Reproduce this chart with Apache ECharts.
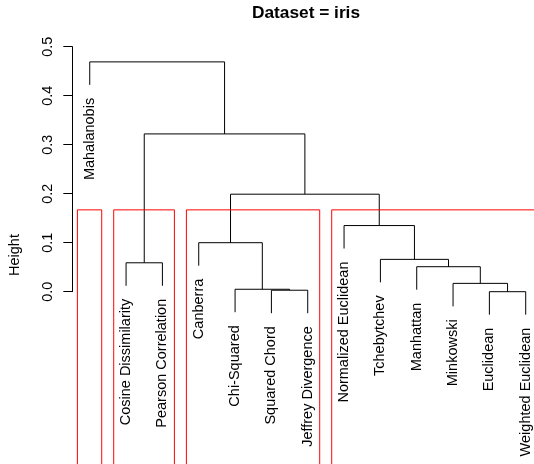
<!DOCTYPE html>
<html>
<head>
<meta charset="utf-8">
<title>Dataset = iris</title>
<script src="https://cdn.jsdelivr.net/npm/echarts@6/dist/echarts.min.js"></script>
<style>
  html, body { margin: 0; padding: 0; background: #ffffff; }
  #chart { width: 534px; height: 464px; }
</style>
</head>
<body>
<div id="chart"></div>
<script>
// Leaves in dendrogram order (left to right)
const leafLabels = [
  'Mahalanobis', 'Cosine Dissimilarity', 'Pearson Correlation', 'Canberra',
  'Chi-Squared', 'Squared Chord', 'Jeffrey Divergence', 'Normalized Euclidean',
  'Tchebytchev', 'Manhattan', 'Minkowski', 'Euclidean', 'Weighted Euclidean'
];

// hclust-style merge table: negative = leaf (1-based position), positive = earlier merge
const mergePairs = [
  [-12, -13], [-6, -7], [-5, 2], [-11, 1], [-10, 4], [-2, -3],
  [-9, 5], [-4, 3], [-8, 7], [8, 9], [6, 10], [-1, 11]
];
const mergeHeights = [
  0.000, 0.003, 0.005, 0.017, 0.051, 0.059,
  0.066, 0.100, 0.135, 0.199, 0.322, 0.469
];

const yTicks = [0, 0.1, 0.2, 0.3, 0.4, 0.5];
const boxCount = 4;          // clusters outlined in red
const hangFraction = 0.1;    // leaves hang below their merge by this share of the max height

const FONT = "'Liberation Sans', Arial, Helvetica, sans-serif";

// ---- build dendrogram segments from the merge table ----
const maxH = Math.max(...mergeHeights);
const hang = hangFraction * maxH;
const centers = [];   // x centre of each merge
function childX(c) { return c < 0 ? -c : centers[c - 1]; }
function childTop(c, h) { return c < 0 ? h - hang : mergeHeights[c - 1]; }

const branchData = mergePairs.map((p, i) => {
  const h = mergeHeights[i];
  const xl = childX(p[0]), xr = childX(p[1]);
  centers[i] = (xl + xr) / 2;
  return [xl, xr, h, childTop(p[0], h), childTop(p[1], h)];
});

// leaf end heights (where the labels hang from)
const leafEnd = new Array(leafLabels.length);
mergePairs.forEach((p, i) => {
  p.forEach(c => { if (c < 0) leafEnd[-c - 1] = mergeHeights[i] - hang; });
});
const leafData = leafLabels.map((_, i) => [i + 1, leafEnd[i]]);

// ---- clusters from cutting the tree into boxCount groups ----
const n = leafLabels.length;
const parent = leafLabels.map((_, i) => i);
function find(a) { while (parent[a] !== a) a = parent[a] = parent[parent[a]]; return a; }
const mergeRep = [];
function rep(c) { return c < 0 ? -c - 1 : mergeRep[c - 1]; }
for (let i = 0; i < n - boxCount; i++) {
  const a = find(rep(mergePairs[i][0])), b = find(rep(mergePairs[i][1]));
  parent[b] = a;
  mergeRep[i] = a;
}
for (let i = n - boxCount; i < mergePairs.length; i++) mergeRep[i] = rep(mergePairs[i][0]);
const groups = {};
leafLabels.forEach((_, i) => {
  const r = find(i);
  if (!groups[r]) groups[r] = [i + 1, i + 1];
  groups[r][0] = Math.min(groups[r][0], i + 1);
  groups[r][1] = Math.max(groups[r][1], i + 1);
});
const sortedDesc = mergeHeights.slice().sort((a, b) => b - a);
const boxTop = (sortedDesc[boxCount - 2] + sortedDesc[boxCount - 1]) / 2;
const boxBottom = -1;
const boxData = Object.values(groups)
  .sort((a, b) => a[0] - b[0])
  .map(g => [g[0] - 0.34, g[1] + 0.33, boxBottom, boxTop]);

const chart = echarts.init(document.getElementById('chart'), null, { renderer: 'canvas' });

chart.setOption({
  animation: false,
  backgroundColor: '#ffffff',
  // plot area runs to the right edge of the canvas; the last box continues past it
  grid: { left: 72.3, top: 46.7, right: 0, height: 245, containLabel: false },
  xAxis: {
    type: 'value', min: 0.52, max: 13.228, show: false
  },
  yAxis: {
    type: 'value', min: 0, max: 0.5, interval: 0.1,
    axisLine: { show: true, lineStyle: { color: '#000', width: 1 } },
    axisTick: { show: true, inside: false, length: 9, lineStyle: { color: '#000', width: 1 } },
    axisLabel: {
      rotate: 90, margin: 17, color: '#000',
      fontFamily: FONT, fontSize: 14.4,
      customValues: yTicks,
      formatter: v => v.toFixed(1)
    },
    splitLine: { show: false }
  },
  graphic: [
    {
      type: 'text', x: 306, y: 13,
      style: { text: 'Dataset = iris', font: 'bold 17.3px ' + FONT, fill: '#000', align: 'center', verticalAlign: 'middle' }
    },
    {
      type: 'text', x: 14.5, y: 255, rotation: Math.PI / 2,
      style: { text: 'Height', font: '14.5px ' + FONT, fill: '#000', align: 'center', verticalAlign: 'middle' }
    }
  ],
  series: [
    {
      type: 'custom', name: 'branches', clip: false, silent: true,
      data: branchData,
      renderItem: (params, api) => {
        const xl = api.value(0), xr = api.value(1), h = api.value(2);
        const pts = [
          api.coord([xl, api.value(3)]),
          api.coord([xl, h]),
          api.coord([xr, h]),
          api.coord([xr, api.value(4)])
        ];
        return {
          type: 'polyline',
          shape: { points: pts },
          style: { stroke: '#000', lineWidth: 1, fill: null }
        };
      },
      z: 2
    },
    {
      type: 'custom', name: 'leaves', clip: false, silent: true,
      data: leafData,
      renderItem: (params, api) => {
        const p = api.coord([api.value(0), api.value(1)]);
        return {
          type: 'text', x: p[0], y: p[1] + 13, rotation: Math.PI / 2,
          style: {
            text: leafLabels[params.dataIndex],
            font: '14.5px ' + FONT, fill: '#000',
            align: 'right', verticalAlign: 'middle'
          }
        };
      },
      z: 2
    },
    {
      type: 'custom', name: 'clusters', clip: false, silent: true,
      data: boxData,
      renderItem: (params, api) => {
        const a = api.coord([api.value(0), api.value(3)]);
        const b = api.coord([api.value(1), api.value(2)]);
        return {
          type: 'rect',
          shape: { x: a[0], y: a[1], width: b[0] - a[0], height: b[1] - a[1] },
          style: { stroke: '#ff0000', lineWidth: 1, fill: null }
        };
      },
      z: 3
    }
  ]
});
</script>
</body>
</html>
